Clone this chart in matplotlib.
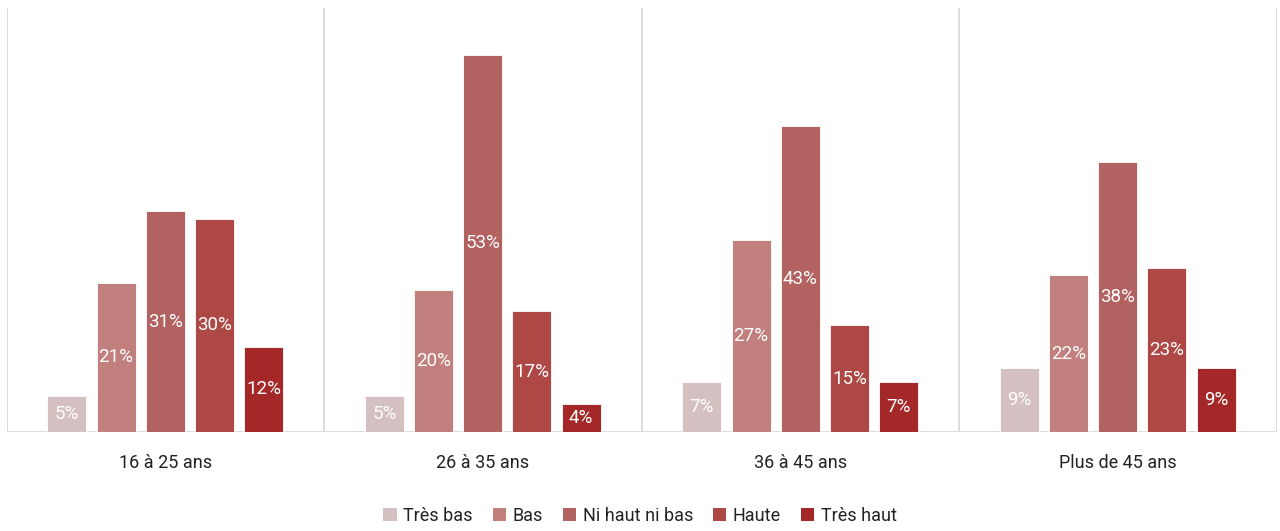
import numpy as np
import matplotlib
matplotlib.use("Agg")
import matplotlib.pyplot as plt
from matplotlib.patches import Patch

groups = ["16 à 25 ans", "26 à 35 ans", "36 à 45 ans", "Plus de 45 ans"]
series = ["Très bas", "Bas", "Ni haut ni bas", "Haute", "Très haut"]
tres_bas = [5, 5, 7, 9]
bas = [21, 20, 27, 22]
ni_haut_ni_bas = [31, 53, 43, 38]
haute = [30, 17, 15, 23]
tres_haut = [12, 4, 7, 9]
colors = ["#d4bfc1", "#c17f7e", "#b36262", "#ad4845", "#a52828"]

plt.rcParams['font.family'] = ['Roboto', 'DejaVu Sans']

fig = plt.figure(figsize=(12.8, 5.31), dpi=100)
ax = fig.add_axes([6.5 / 1280, 99 / 531, 1270 / 1280, 424 / 531])

values = [tres_bas, bas, ni_haut_ni_bas, haute, tres_haut]
x = np.arange(len(groups))
width = 0.123
step = 0.155

for i, (name, vals) in enumerate(zip(series, values)):
    pos = x + (i - 2) * step
    bars = ax.bar(pos, vals, width, color=colors[i], label=name,
                  edgecolor="white", linewidth=0.6, zorder=3)
    for b, v in zip(bars, vals):
        ax.text(b.get_x() + b.get_width() / 2, v / 2, f"{v}%",
                ha="center", va="center", color="white", fontsize=13.5, zorder=4)

ax.set_xlim(-0.5, len(groups) - 0.5)
ax.set_ylim(0, 59.6)

# group separators
for b in np.arange(-0.5, len(groups), 1.0):
    ax.axvline(b, color="#d9d9d9", linewidth=1.3, zorder=1)
ax.axhline(0, color="#d9d9d9", linewidth=2, zorder=2)

for s in ax.spines.values():
    s.set_visible(False)
ax.set_yticks([])
ax.set_xticks(x)
ax.set_xticklabels(groups, fontsize=13, color="#222222")
ax.tick_params(axis="x", length=0, pad=16)

handles = [Patch(facecolor=c, label=n) for c, n in zip(colors, series)]
fig.legend(handles=handles, loc="center", bbox_to_anchor=(0.5, 15 / 531), ncol=5,
           frameon=False, fontsize=13, handlelength=0.75, handleheight=0.75,
           handletextpad=0.35, columnspacing=1.1, labelcolor="#222222")

fig.savefig("out.png", dpi=100, facecolor="white")
